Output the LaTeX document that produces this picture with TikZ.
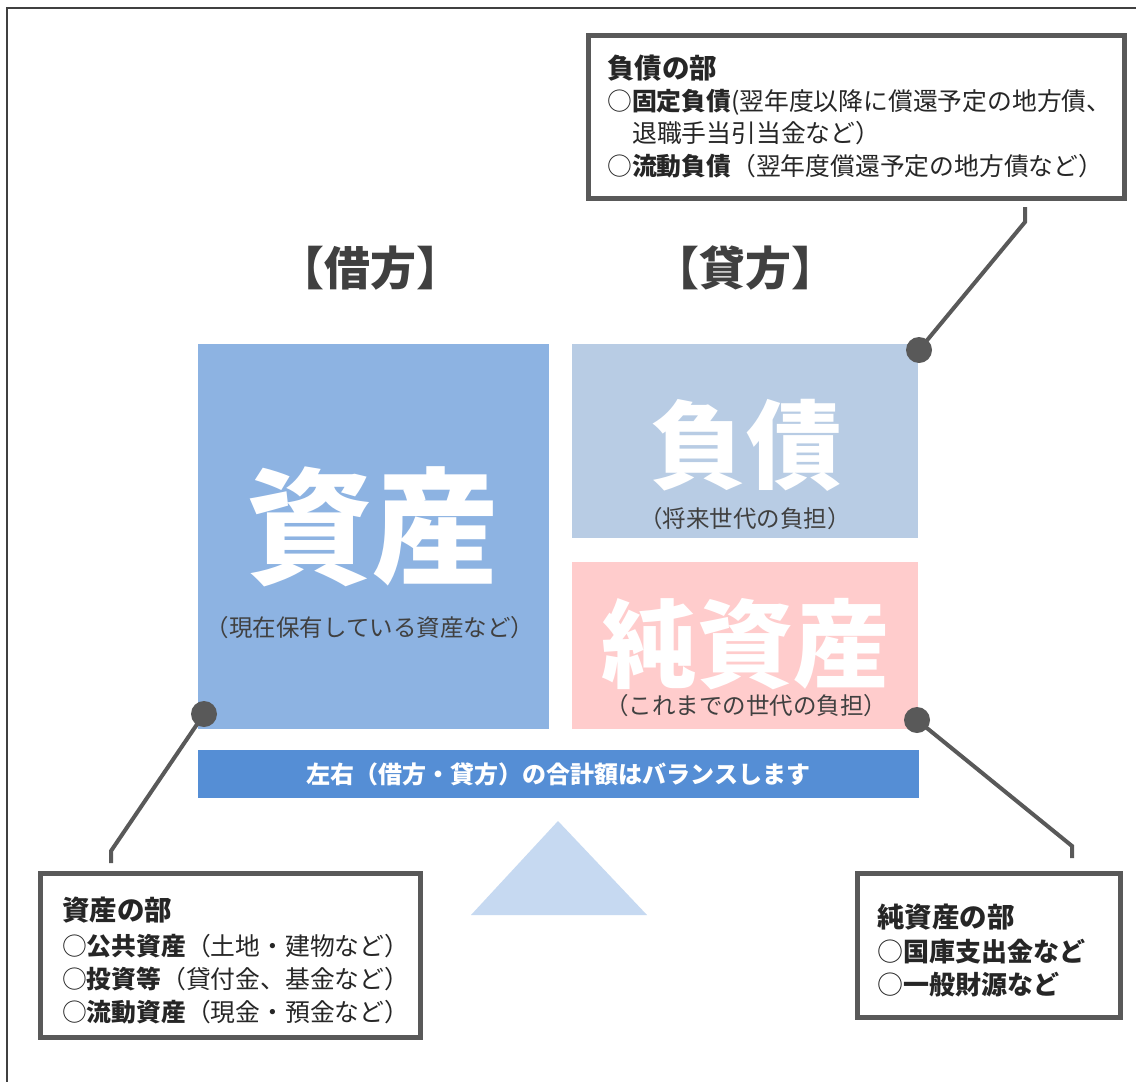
\documentclass[tikz,border=0pt]{standalone}
\usepackage{fontspec}
\setmainfont{Noto Sans CJK JP}
\definecolor{assetc}{HTML}{8DB3E2}
\definecolor{liabc}{HTML}{B8CCE4}
\definecolor{eqc}{HTML}{FFCCCC}
\definecolor{barc}{HTML}{558ED5}
\definecolor{tric}{HTML}{C6D9F1}
\definecolor{framec}{HTML}{404040}
\definecolor{linec}{HTML}{595959}
\definecolor{capc}{HTML}{404040}
\definecolor{txtc}{HTML}{262626}
\newcommand{\fs}[1]{\fontsize{#1}{#1}\selectfont}
\tikzset{
  block/.style={draw=none, inner sep=0pt, anchor=north west},
  bigtxt/.style={text=white, font=\fs{96}\bfseries, inner sep=0pt},
  captxt/.style={text=capc, font=\fs{23.5}, inner sep=0pt},
  callout/.style={draw=linec, line width=5pt, fill=white, inner sep=0pt, anchor=north west},
  cline/.style={text=txtc, font=\fs{24.8}, inner sep=0pt, anchor=west},
  chead/.style={text=txtc, font=\fs{27.5}\bfseries, inner sep=0pt, anchor=west},
  dotc/.style={circle, fill=linec, minimum size=26pt, inner sep=0pt},
  conn/.style={draw=linec, line width=4pt},
  sidetxt/.style={text=capc, font=\fs{46}\bfseries, inner sep=0pt}
}
\begin{document}
\begin{tikzpicture}[x=1pt,y=-1pt]
\useasboundingbox (0,0) rectangle (1136,1082);
\clip (0,0) rectangle (1136,1082);
\fill[white] (0,0) rectangle (1136,1082);
\draw[framec, line width=2.7pt] (7,8) rectangle (1160,1110);

% headings
\node[sidetxt] (debit) at (370,268) {【借方】};
\node[sidetxt] (credit) at (745,268) {【貸方】};

% blocks
\node[block, fill=assetc, minimum width=351pt, minimum height=385pt] (asset) at (198,344) {};
\node[block, fill=liabc, minimum width=346pt, minimum height=194pt] (liab) at (572,344) {};
\node[block, fill=eqc, minimum width=346pt, minimum height=167pt] (equity) at (572,562) {};
\node[block, fill=barc, minimum width=721pt, minimum height=48pt] (bar) at (198,750) {};

\node[bigtxt, font=\fs{126}\bfseries] (assetT) at (372,527) {資産};
\node[captxt] (assetC) at (370,628) {（現在保有している資産など）};
\node[bigtxt] (liabT) at (746,445) {負債};
\node[captxt] (liabC) at (745,519) {（将来世代の負担）};
\node[bigtxt] (eqT) at (745,644) {純資産};
\node[captxt] (eqC) at (746,706) {（これまでの世代の負担）};
\node[text=white, font=\fs{24}\bfseries, inner sep=0pt] (barT) at (bar.center) {左右（借方・貸方）の合計額はバランスします};

% triangle
\fill[tric] (558,821) -- (647,915) -- (471,915) -- cycle;

% callouts
\node[callout, minimum width=536pt, minimum height=163pt] (boxL) at (586,33) {};
\node[chead] (hL) at (607,68) {負債の部};
\node[cline] (l1) at (607,102) {○\textbf{固定負債}(翌年度以降に償還予定の地方債、};
\node[cline] (l2) at (632,133) {退職手当引当金など）};
\node[cline] (l3) at (607,166) {○\textbf{流動負債}（翌年度償還予定の地方債など）};

\node[callout, minimum width=380pt, minimum height=164pt] (boxA) at (38,871) {};
\node[chead] (hA) at (62,910) {資産の部};
\node[cline] (a1) at (62,946) {○\textbf{公共資産}（土地・建物など）};
\node[cline] (a2) at (62,979) {○\textbf{投資等}（貸付金、基金など）};
\node[cline] (a3) at (62,1012) {○\textbf{流動資産}（現金・預金など）};

\node[callout, minimum width=263pt, minimum height=144pt] (boxE) at (855,871) {};
\node[chead] (hE) at (877,917) {純資産の部};
\node[cline, font=\fs{26}] (e1) at (877,952) {○\textbf{国庫支出金など}};
\node[cline, font=\fs{26}] (e2) at (877,985) {○\textbf{一般財源など}};

% connectors
\node[dotc] (dL) at (919,350) {};
\coordinate (kL) at (1025,222);
\coordinate (eL) at (1025,207);
\draw[conn] (dL.center) -- (kL) -- (eL);

\node[dotc] (dA) at (204,714) {};
\coordinate (kA) at (111,851);
\coordinate (eA) at (111,863);
\draw[conn] (dA.center) -- (kA) -- (eA);

\node[dotc] (dE) at (917,720) {};
\coordinate (kE) at (1072,846);
\coordinate (eE) at (1072,858);
\draw[conn] (dE.center) -- (kE) -- (eE);
\end{tikzpicture}
\end{document}
